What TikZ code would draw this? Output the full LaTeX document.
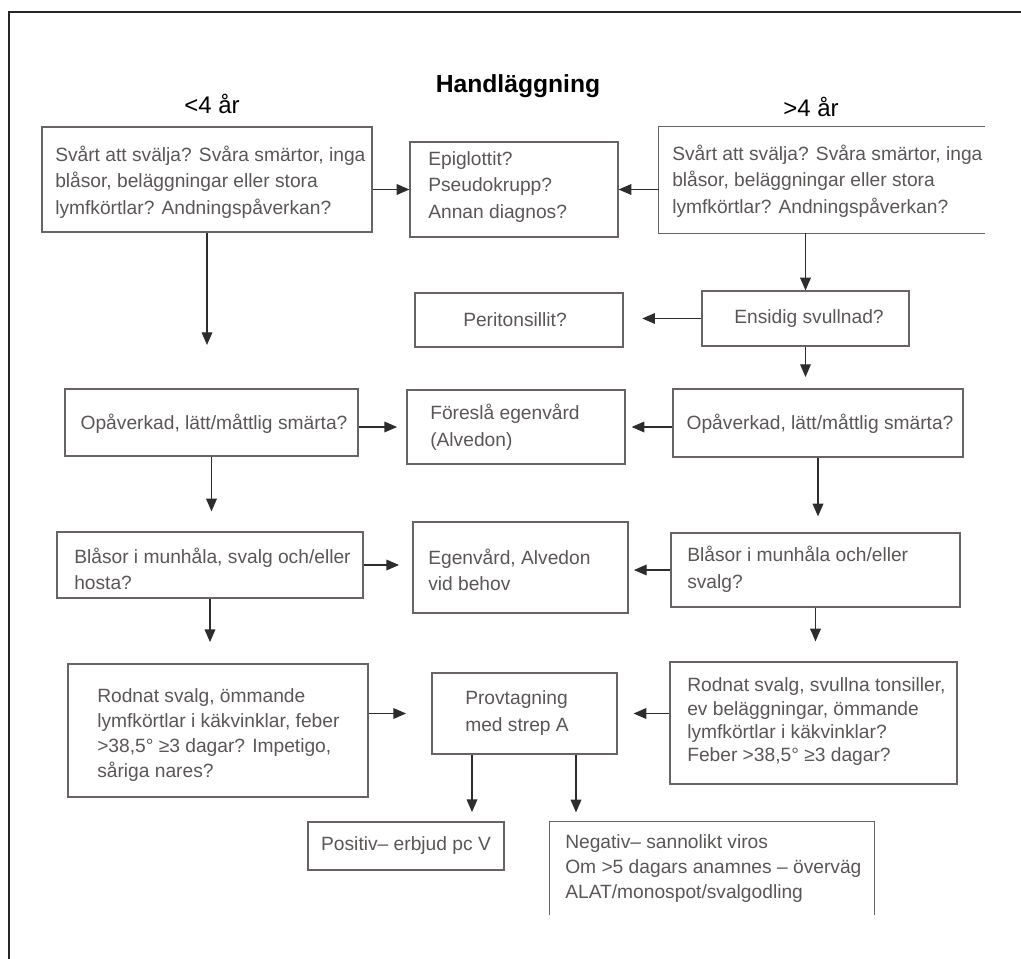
\documentclass[tikz,border=0pt]{standalone}
\usepackage{fontspec}
\setmainfont{Liberation Sans}
\usetikzlibrary{arrows.meta,calc,fit}
\definecolor{boxc}{RGB}{105,100,100}
\definecolor{txtc}{RGB}{90,86,86}
\definecolor{arrc}{RGB}{45,45,45}
\begin{document}
\begin{tikzpicture}[x=0.75pt,y=-0.75pt,
  box/.style={draw=boxc, line width=0.9pt, inner sep=0pt},
  openbox/.style={inner sep=0pt},
  txt/.style={text=txtc, font=\fontsize{14.4}{20}\selectfont, inner sep=0pt, align=left},
  ctxt/.style={text=txtc, font=\fontsize{14.4}{20}\selectfont, inner sep=0pt, align=center},
  arr/.style={draw=arrc, line width=0.9pt, -{Triangle[length=9.5pt,width=8pt]}},
  head/.style={text=black, font=\fontsize{18}{22}\selectfont, inner sep=0pt}]
\useasboundingbox (0,0) rectangle (1021,959);
% frame
\draw[line width=1.4pt, black!85] (1021,12) -- (9,12) -- (9,959);
% headings
\node[text=black, font=\fontsize{18.5}{22}\selectfont\bfseries, inner sep=0pt] (title) at (518,86) {Handläggning};
\node[head] (lt) at (212,104) {<4 år};
\node[head] (gt) at (811,107) {>4 år};
% boxes
\node[box, fit={(42,127) (372,232)}] (A1) {};
\node[box, fit={(410,142) (618,237)}] (E) {};
\node[openbox, fit={(659,127) (985,233)}] (A2) {};
\draw[boxc, line width=0.9pt] (A2.north east) -- (A2.north west) -- (A2.south west) -- (A2.south east);
\node[box, fit={(415,293) (623,347)}] (P) {};
\node[box, fit={(702,291) (909,346)}] (S) {};
\node[box, fit={(65,389) (358,456)}] (B1) {};
\node[box, fit={(407,390) (625,464)}] (F) {};
\node[box, fit={(673,389) (963,457)}] (B2) {};
\node[box, fit={(57,532) (363,598)}] (C1) {};
\node[box, fit={(413,522) (628,613)}] (G) {};
\node[box, fit={(671,533) (960,607)}] (C2) {};
\node[box, fit={(68,664) (368,797)}] (D1) {};
\node[box, fit={(432,673) (617,754)}] (T) {};
\node[box, fit={(670,662) (957,784)}] (D2) {};
\node[box, fit={(308,822) (504,870)}] (Pos) {};
\node[openbox, fit={(550,822) (874,915)}] (Neg) {};
\draw[boxc, line width=0.9pt] (Neg.south west) -- (Neg.north west) -- (Neg.north east) -- (Neg.south east);
% texts
\node[txt, anchor=west] (A1t) at (55,182) {Svårt att svälja? Svåra smärtor, inga\\blåsor, beläggningar eller stora\\lymfkörtlar? Andningspåverkan?};
\node[txt, anchor=west] (Et) at (428,187) {Epiglottit?\\Pseudokrupp?\\Annan diagnos?};
\node[txt, anchor=west] (A2t) at (672,181) {Svårt att svälja? Svåra smärtor, inga\\blåsor, beläggningar eller stora\\lymfkörtlar? Andningspåverkan?};
\node[ctxt] (Pt) at (515,320) {Peritonsillit?};
\node[ctxt] (St) at (809,318.5) {Ensidig svullnad?};
\node[ctxt] (B1t) at (214,424) {Opåverkad, lätt/måttlig smärta?};
\node[ctxt] (B2t) at (820,424) {Opåverkad, lätt/måttlig smärta?};
\node[txt, anchor=west] (Ft) at (430,427) {Föreslå egenvård\\(Alvedon)};
\node[txt, anchor=west] (C1t) at (74,569) {Blåsor i munhåla, svalg och/eller\\hosta?};
\node[txt, anchor=west] (Gt) at (428,570) {Egenvård, Alvedon\\vid behov};
\node[txt, anchor=west] (C2t) at (687,569) {Blåsor i munhåla och/eller\\svalg?};
\node[txt, anchor=west, font=\fontsize{14.4}{18.75}\selectfont] (D1t) at (97,735) {Rodnat svalg, ömmande\\lymfkörtlar i käkvinklar, feber\\>38,5° ≥3 dagar? Impetigo,\\såriga nares?};
\node[txt, anchor=west] (Tt) at (465,713) {Provtagning\\med strep A};
\node[txt, anchor=west, font=\fontsize{14.4}{17.5}\selectfont] (D2t) at (687,722) {Rodnat svalg, svullna tonsiller,\\ev beläggningar, ömmande\\lymfkörtlar i käkvinklar?\\Feber >38,5° ≥3 dagar?};
\node[ctxt] (Post) at (406,846) {Positiv– erbjud pc V};
\node[txt, anchor=north west, font=\fontsize{14.4}{18.75}\selectfont] (Negt) at (565,834) {Negativ– sannolikt viros\\Om >5 dagars anamnes – överväg\\ALAT/monospot/svalgodling};
% free ends
\coordinate (a1end) at (207,345);
\coordinate (send) at (805.5,377);
% connectors
\draw[arr] (A1.east |- E.west) -- (E.west);
\draw[arr] (A2.west |- E.east) -- (E.east);
\draw[arr] (A1.south) -- (a1end);
\draw[arr] (S.north |- A2.south) -- (S.north);
\draw[arr, shorten >=14pt] (S.west) -- (S.west -| P.east);
\draw[arr] (S.south) -- (send);
\draw[arr, shorten >=7pt] (B1.east |- F.west) -- (F.west);
\draw[arr, shorten >=4.5pt] (B2.west |- F.east) -- (F.east);
\draw[arr, shorten >=15pt] (B1.south) -- (B1.south |- C1.north);
\draw[arr, shorten >=12pt] (B2.south) -- (B2.south |- C2.north);
\draw[arr, shorten >=10pt] (C1.east) -- (C1.east -| G.west);
\draw[arr, shorten >=4pt] (C2.west) -- (C2.west -| G.east);
\draw[arr, shorten >=16pt] (C1.south) -- (C1.south |- D1.north);
\draw[arr, shorten >=15pt] (C2.south) -- (C2.south |- D2.north);
\draw[arr, shorten >=19pt] (D1.east |- T.west) -- (T.west);
\draw[arr, shorten >=12pt] (D2.west |- T.east) -- (T.east);
\draw[arr, shorten >=7pt] ($(T.south)+(-52.5,0)$) -- ($(T.south |- Pos.north)+(-52.5,0)$);
\draw[arr, shorten >=7pt] ($(T.south)+(51.5,0)$) -- ($(T.south |- Neg.north)+(51.5,0)$);
\end{tikzpicture}
\end{document}
